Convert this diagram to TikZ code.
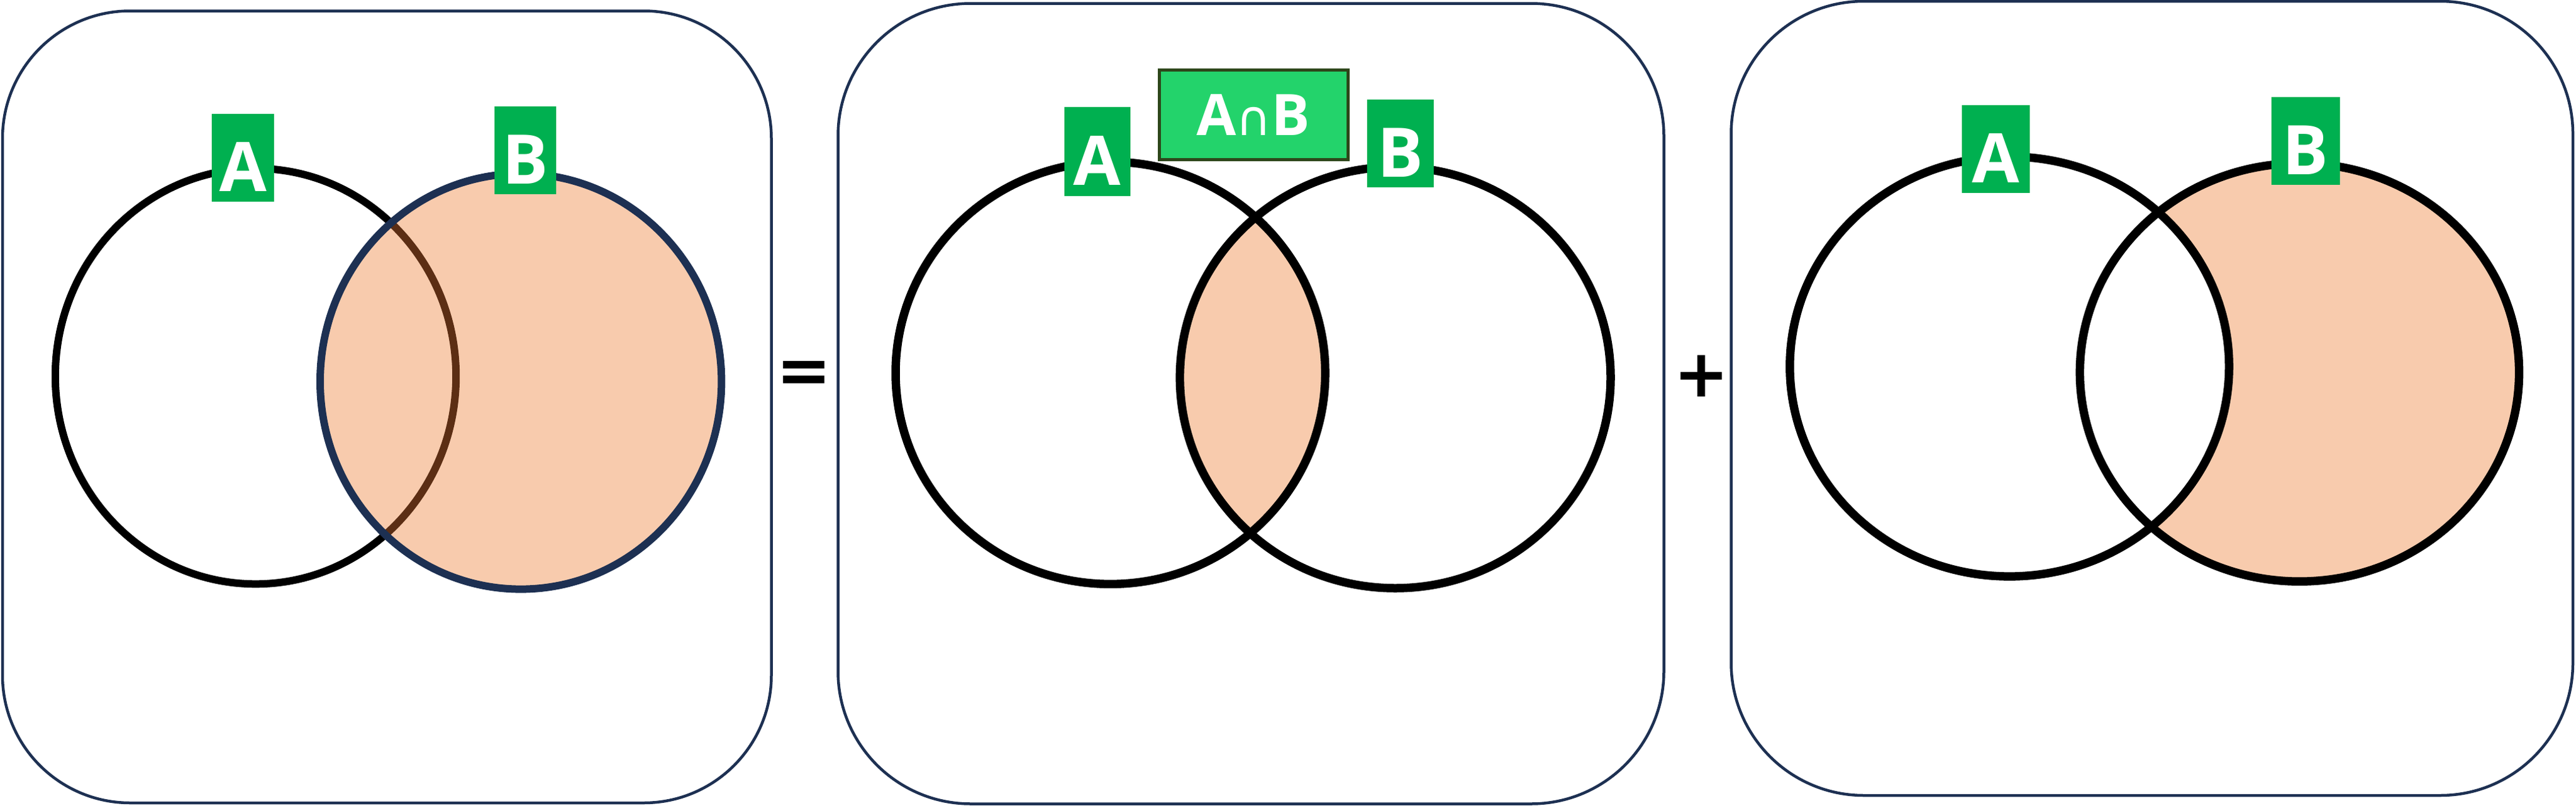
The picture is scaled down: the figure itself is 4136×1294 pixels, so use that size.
\documentclass[tikz,border=0pt]{standalone}
\usepackage{fontspec}
\newfontfamily\lblfont{Open Sans}
\newfontfamily\symfont{DejaVu Sans}
\definecolor{lblgreen}{RGB}{0,176,80}
\definecolor{capgreen}{RGB}{35,211,107}
\definecolor{capborder}{RGB}{45,70,26}
\definecolor{peach}{RGB}{248,203,173}
\definecolor{navy}{RGB}{29,48,82}
\definecolor{brownline}{RGB}{92,46,20}
\begin{document}
\begin{tikzpicture}[x=1pt,y=-1pt,
  panel/.style={draw=navy, line width=4.5pt},
  ring/.style={draw=black, line width=13.5pt},
  thinring/.style={draw=black, line width=12pt},
  setlabel/.style={fill=lblgreen, text=white, inner sep=0pt,
    font=\lblfont\bfseries\fontsize{110pt}{110pt}\selectfont,
    text height=108pt, text depth=0pt, minimum height=141pt},
  capbox/.style={fill=capgreen, draw=capborder, line width=5pt, text=white, inner sep=0pt,
    font=\lblfont\bfseries\fontsize{92pt}{92pt}\selectfont,
    text height=66pt, text depth=0pt, minimum width=303pt, minimum height=144pt},
  optext/.style={inner sep=0pt, text=black, font=\symfont\bfseries\fontsize{106pt}{106pt}\selectfont}
]
\useasboundingbox (0,0) rectangle (4136,1294);

% ---------- panel 1 : B ----------
\draw[panel, rounded corners=205pt] (4,17.5) rectangle (1238.5,1290);
\draw[thinring] (410.5,604.5) ellipse [x radius=321.7pt, y radius=333.8pt];
\fill[peach] (836.2,612.8) ellipse [x radius=322.2pt, y radius=333.8pt];
\begin{scope}
  \clip (836.2,612.8) ellipse [x radius=322.2pt, y radius=333.8pt];
  \draw[thinring, draw=brownline] (410.5,604.5) ellipse [x radius=321.7pt, y radius=333.8pt];
\end{scope}
\draw[thinring, draw=navy] (836.2,612.8) ellipse [x radius=322.2pt, y radius=333.8pt];
\node[setlabel, minimum width=100pt] (a1) at (390.1,253.8) {A};
\node[setlabel, minimum width=99pt] (b1) at (843.7,241.4) {B};

% ---------- equals ----------
\node[optext] (eq) at (1291.3,606) {=};

% ---------- panel 2 : A cap B ----------
\draw[panel, rounded corners=213pt] (1345.5,5.5) rectangle (2671.5,1291.5);
\begin{scope}
  \clip (1782.9,599.2) ellipse [x radius=344.9pt, y radius=339.2pt];
  \fill[peach] (2240.2,606.6) ellipse [x radius=345.8pt, y radius=338.4pt];
\end{scope}
\draw[ring] (1782.9,599.2) ellipse [x radius=344.9pt, y radius=339.2pt];
\draw[ring] (2240.2,606.6) ellipse [x radius=345.8pt, y radius=338.4pt];
\node[setlabel, minimum width=106pt, minimum height=143pt] (a2) at (1761.9,243.5) {A};
\node[setlabel, minimum width=107pt] (b2) at (2248.5,230.8) {B};
\node[capbox] (ab) at (2012.5,184.5) {A{\symfont\mdseries\fontsize{78pt}{78pt}\selectfont ∩}B};

% ---------- plus ----------
\node[optext] (plus) at (2732.3,604.5) {+};

% ---------- panel 3 : B minus A ----------
\draw[panel, rounded corners=213pt] (2779.5,2) rectangle (4131,1278);
\fill[peach] (3692,598.3) ellipse [x radius=352.6pt, y radius=335.9pt];
\fill[white] (3226.4,588.9) ellipse [x radius=352.6pt, y radius=337.2pt];
\draw[ring] (3226.4,588.9) ellipse [x radius=352.6pt, y radius=337.2pt];
\draw[ring] (3692,598.3) ellipse [x radius=352.6pt, y radius=335.9pt];
\node[setlabel, minimum width=109pt] (a3) at (3204.9,239.8) {A};
\node[setlabel, minimum width=110pt] (b3) at (3701.5,226.5) {B};
\end{tikzpicture}
\end{document}
